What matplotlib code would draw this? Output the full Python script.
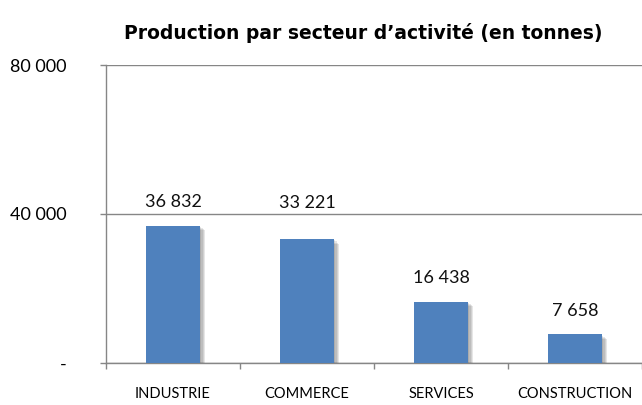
import numpy as np
import matplotlib.pyplot as plt
import matplotlib.patheffects as pe

categories = ['INDUSTRIE', 'COMMERCE', 'SERVICES', 'CONSTRUCTION']
values = [36832, 33221, 16438, 7658]
ytick_vals = [0, 40000, 80000]
ytick_labels = ['-', '40 000', '80 000']


def fmt(v):
    return '{:,}'.format(v).replace(',', ' ')


def main():
    plt.rcParams['font.family'] = ['Lato', 'DejaVu Sans']
    fig = plt.figure(figsize=(6.42, 4.05), dpi=100)
    ax = fig.add_axes([106 / 642, 42 / 405, 536 / 642, 298 / 405])

    x = np.arange(len(categories))
    bars = ax.bar(x, values, width=0.4, color='#4F81BD', zorder=3)
    # soft shadow: a few stacked offsets with low alpha
    shadow = [pe.SimplePatchShadow(offset=(d, -d * 0.8), alpha=0.13,
                                   shadow_rgbFace='#404040') for d in (1, 2, 3, 4)]
    for b in bars:
        b.set_path_effects(shadow + [pe.Normal()])
        v = b.get_height()
        ly = v + 6400
        # label would sit on the 40 000 gridline -> push above it like excel does
        if abs(ly - 40000) < 3000:
            ly = 43000
        ax.text(b.get_x() + b.get_width() / 2, ly, fmt(int(v)),
                ha='center', va='center', fontsize=13, color='#111111')

    ax.set_xlim(-0.5, 3.5)
    ax.set_ylim(0, 80000)
    ax.set_yticks(ytick_vals)
    ax.set_yticklabels(ytick_labels, fontsize=13)
    ax.tick_params(axis='y', length=4.5, width=1, color='#868686', pad=24)
    ax.set_xticks(x)
    ax.set_xticklabels(categories, fontsize=10.5)
    ax.set_xticks(np.arange(-0.5, 4.0, 1.0), minor=True)
    ax.tick_params(axis='x', which='major', length=0, pad=17)
    ax.tick_params(axis='x', which='minor', length=4.5, width=1, color='#868686')

    ax.yaxis.grid(True, color='#868686', linewidth=1, zorder=0)
    for s in ['top', 'right']:
        ax.spines[s].set_visible(False)
    for s in ['left', 'bottom']:
        ax.spines[s].set_color('#868686')
        ax.spines[s].set_linewidth(1)

    fig.text(363 / 642, 1 - 33 / 405, 'Production par secteur d\u2019activit\u00e9 (en tonnes)',
             ha='center', va='center', fontsize=13.5, fontweight='bold',
             family=['DejaVu Sans'])

    fig.savefig('out.png', dpi=100)


if __name__ == '__main__':
    main()
